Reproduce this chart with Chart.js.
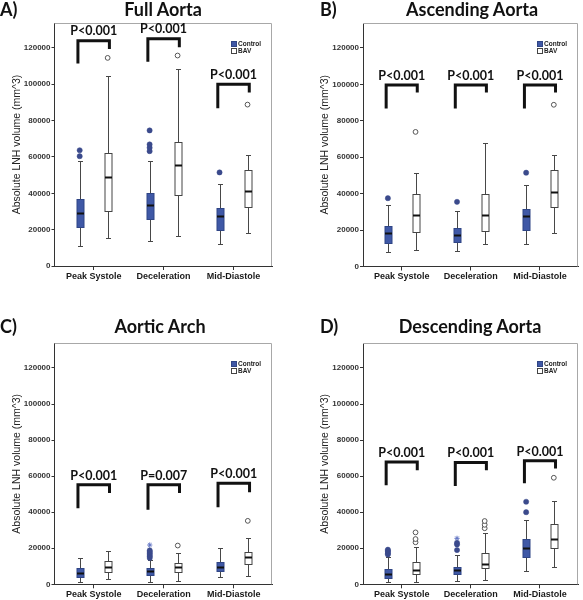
<!DOCTYPE html>
<html>
<head>
<meta charset="utf-8">
<script src="https://cdn.jsdelivr.net/npm/chart.js@4.4.1/dist/chart.umd.min.js"></script>
<style>
  body { margin: 0; background: #fff; width: 583px; height: 600px; position: relative; overflow: hidden; }
  .panel { position: absolute; }
  .lab, .ttl { position: absolute; font-family: Lato, sans-serif; font-weight: bold; font-size: 18px; line-height: 21px; color: #111; white-space: nowrap; }
  .ttl { text-align: center; }
</style>
</head>
<body>
<div class="panel" style="left:0;top:0"><canvas id="cA" width="308" height="300"></canvas></div>
<div class="panel" style="left:308px;top:0"><canvas id="cB" width="275" height="300"></canvas></div>
<div class="panel" style="left:0;top:300px"><canvas id="cC" width="308" height="310"></canvas></div>
<div class="panel" style="left:308px;top:300px"><canvas id="cD" width="275" height="310"></canvas></div>

<div class="lab" style="left:0;top:-1px">A)</div>
<div class="ttl" style="left:54px;width:218px;top:-1px">Full Aorta</div>
<div class="lab" style="left:320px;top:-1px">B)</div>
<div class="ttl" style="left:363px;width:218px;top:-1px">Ascending Aorta</div>
<div class="lab" style="left:0;top:316px">C)</div>
<div class="ttl" style="left:51px;width:218px;top:316px">Aortic Arch</div>
<div class="lab" style="left:320px;top:316px">D)</div>
<div class="ttl" style="left:361px;width:218px;top:316px">Descending Aorta</div>

<script>
const categories = ['Peak Systole', 'Deceleration', 'Mid-Diastole'];
const groups = ['Control', 'BAV'];
const yTicks = [0, 20000, 40000, 60000, 80000, 100000, 120000];
const Y_MAX = 133700;

// boxes: [lower whisker, Q1, median, Q3, upper whisker] per category
// brackets: [left leg bottom, bracket top, right leg bottom]

// A) Full Aorta
const fullControl = [[11000, 21600, 29100, 37000, 58000], [13700, 26000, 33300, 39900, 57700], [12300, 19800, 27600, 32000, 45000]];
const fullBav = [[15600, 30200, 49100, 62300, 104800], [16500, 39000, 55300, 68100, 108600], [18400, 32700, 41000, 52900, 61200]];
const fullControlOut = [[60400, 63700], [63200, 65100, 66900, 74600], [51500]];
const fullControlExt = [[], [], []];
const fullBavOut = [[114500], [115800], [88800]];
const fullBracket = [[111400, 124000, 119400], [112400, 125100, 120400], [86800, 100000, 95400]];
const fullP = ['P<0.001', 'P<0.001', 'P<0.001'];

// B) Ascending Aorta
const ascControl = [[7700, 12900, 18400, 22000, 33600], [8700, 13400, 17500, 21200, 30700], [12300, 19800, 27600, 31800, 45000]];
const ascBav = [[9200, 18900, 28100, 39900, 51100], [12300, 19700, 28500, 39900, 68000], [18400, 32700, 41000, 52900, 61200]];
const ascControlOut = [[37500], [35500], [51500]];
const ascControlExt = [[], [], []];
const ascBavOut = [[73900], [], [88800]];
const ascBracket = [[86800, 99700, 95500], [86800, 99700, 95500], [86800, 99700, 95500]];
const ascP = ['P<0.001', 'P<0.001', 'P<0.001'];

// C) Aortic Arch
const archControl = [[1100, 4200, 6100, 8900, 14400], [1500, 5200, 7400, 9200, 13500], [3900, 7400, 9800, 12600, 20000]];
const archBav = [[2900, 6700, 9800, 13100, 18700], [2000, 7000, 9400, 12000, 17200], [4600, 11100, 15000, 18100, 25500]];
const archControlOut = [[], [14600, 15500, 16300, 17200, 18000, 18800], []];
const archControlExt = [[], [21800], []];
const archBavOut = [[], [21500], [35200]];
const archBracket = [[42200, 55200, 50600], [41300, 55200, 50600], [42800, 56100, 51100]];
const archP = ['P<0.001', 'P=0.007', 'P<0.001'];

// D) Descending Aorta
const descControl = [[1100, 3700, 5500, 8300, 15000], [1800, 5500, 7900, 9800, 16200], [7400, 15300, 20000, 25000, 35700]];
const descBav = [[1500, 5700, 7900, 12200, 20800], [2400, 9200, 11100, 17200, 28300], [9400, 20000, 25100, 33500, 46300]];
const descControlOut = [[16500, 17200, 18000, 18600, 19200], [19000, 22100, 23000], [40000, 45800]];
const descControlExt = [[], [25500], []];
const descBavOut = [[23300, 25100, 28800], [31100, 33000, 35100], [59100]];
const descBracket = [[55000, 67900, 63300], [54600, 67600, 63300], [56000, 68500, 64300]];
const descP = ['P<0.001', 'P<0.001', 'P<0.001'];

const CONTROL_FILL = '#3f58a6';
const CONTROL_DOT = '#3b4a8c';
const SHIFT = 0.2;     // group offset from category centre (x units)
const LEG = 0.225;     // bracket leg offset

function toPoints(lists, shift) {
  const pts = [];
  lists.forEach((vals, i) => vals.forEach(v => pts.push({ x: i + 1 + shift, y: v })));
  return pts;
}

function drawBoxes(ctx, x, y, boxes, shift, fill, edge) {
  boxes.forEach((b, i) => {
    const cx = Math.round(x.getPixelForValue(i + 1 + shift)) + 0.5;
    const [lo, q1, med, q3, hi] = b.map(v => Math.round(y.getPixelForValue(v)) + 0.5);
    ctx.strokeStyle = '#474747';
    ctx.lineWidth = 1;
    ctx.beginPath();
    ctx.moveTo(cx, hi); ctx.lineTo(cx, q3);
    ctx.moveTo(cx, q1); ctx.lineTo(cx, lo);
    ctx.moveTo(cx - 2.5, hi); ctx.lineTo(cx + 2.5, hi);
    ctx.moveTo(cx - 2.5, lo); ctx.lineTo(cx + 2.5, lo);
    ctx.stroke();
    ctx.fillStyle = fill;
    ctx.fillRect(cx - 3.5, q3, 7, q1 - q3);
    ctx.strokeStyle = edge;
    ctx.strokeRect(cx - 3.5, q3, 7, q1 - q3);
    ctx.lineWidth = 2;
    ctx.strokeStyle = '#111';
    ctx.beginPath();
    ctx.moveTo(cx - 3.5, med); ctx.lineTo(cx + 3.5, med);
    ctx.stroke();
  });
}

function boxPlugin(controlBox, bavBox, brackets, pLabels) {
  return {
    id: 'boxes',
    beforeDatasetsDraw(chart) {
      const { ctx, chartArea: a, scales: { x, y } } = chart;
      ctx.save();
      // light frame on top / right
      ctx.strokeStyle = '#a8a8a8';
      ctx.lineWidth = 1;
      ctx.beginPath();
      ctx.moveTo(a.left, Math.round(a.top) + 0.5);
      ctx.lineTo(Math.round(a.right) - 0.5, Math.round(a.top) + 0.5);
      ctx.lineTo(Math.round(a.right) - 0.5, a.bottom);
      ctx.stroke();
      drawBoxes(ctx, x, y, controlBox, -SHIFT, CONTROL_FILL, '#2f4585');
      drawBoxes(ctx, x, y, bavBox, SHIFT, '#ffffff', '#444');
      ctx.restore();
    },
    afterDatasetsDraw(chart) {
      const { ctx, chartArea: a, scales: { x, y } } = chart;
      ctx.save();
      ctx.fillStyle = '#111';
      ctx.font = 'bold 12.5px Lato';
      ctx.textAlign = 'center';
      ctx.textBaseline = 'bottom';
      brackets.forEach((b, i) => {
        ctx.fillText(pLabels[i], x.getPixelForValue(i + 1), y.getPixelForValue(b[1]) - 3);
      });
      // legend
      const lx = Math.round(a.right) - 41, ly = Math.round(a.top) + 18;
      ctx.fillStyle = CONTROL_FILL;
      ctx.fillRect(lx, ly, 5, 5);
      ctx.strokeStyle = '#2f4585';
      ctx.lineWidth = 1;
      ctx.strokeRect(lx + 0.5, ly + 0.5, 5, 5);
      ctx.fillStyle = '#fff';
      ctx.fillRect(lx, ly + 7, 5, 5);
      ctx.strokeStyle = '#444';
      ctx.strokeRect(lx + 0.5, ly + 7.5, 5, 5);
      ctx.fillStyle = '#222';
      ctx.font = 'bold 6.5px "Liberation Sans"';
      ctx.textAlign = 'left';
      ctx.textBaseline = 'middle';
      ctx.fillText(groups[0], lx + 7, ly + 3);
      ctx.fillText(groups[1], lx + 7, ly + 10);
      ctx.restore();
    }
  };
}

function makePanel(id, frame, controlBox, bavBox, controlOut, controlExt, bavOut, brackets, pLabels) {
  const canvas = document.getElementById(id);
  const W = canvas.width, H = canvas.height;
  const xh = 20;

  const bracketSets = brackets.map((b, i) => ({
    data: [
      { x: i + 1 - LEG, y: b[0] }, { x: i + 1 - LEG, y: b[1] },
      { x: i + 1 + LEG, y: b[1] }, { x: i + 1 + LEG, y: b[2] }
    ],
    showLine: true,
    borderColor: '#111',
    borderWidth: 3,
    borderJoinStyle: 'miter',
    pointRadius: 0,
    tension: 0
  }));

  new Chart(canvas, {
    type: 'scatter',
    data: {
      datasets: [
        { data: toPoints(controlOut, -SHIFT), pointStyle: 'circle', pointRadius: 2.6, backgroundColor: CONTROL_DOT, borderColor: CONTROL_DOT, borderWidth: 0.5 },
        { data: toPoints(controlExt, -SHIFT), pointStyle: 'star', pointRadius: 2.6, borderColor: '#6275c4', borderWidth: 1 },
        { data: toPoints(bavOut, SHIFT), pointStyle: 'circle', pointRadius: 2.4, backgroundColor: '#fff', borderColor: '#555', borderWidth: 1 },
        ...bracketSets
      ]
    },
    options: {
      responsive: false,
      animation: false,
      layout: { padding: { left: 0, top: frame.top, right: W - frame.right, bottom: H - frame.bottom - xh } },
      plugins: { legend: { display: false }, tooltip: { enabled: false } },
      scales: {
        x: {
          type: 'linear',
          min: 0.44,
          max: 3.55,
          afterFit: s => { s.height = xh; },
          afterBuildTicks: s => { s.ticks = categories.map((c, i) => ({ value: i + 1 })); },
          grid: { drawOnChartArea: false, drawTicks: true, tickLength: 4, color: '#333' },
          border: { color: '#333', width: 1 },
          ticks: {
            includeBounds: false,
            padding: 1,
            maxRotation: 0,
            color: '#1a1a1a',
            font: { family: '"Liberation Sans", Arial', size: 9, weight: 'bold' },
            callback: v => categories[Math.round(v) - 1]
          }
        },
        y: {
          min: 0,
          max: Y_MAX,
          afterFit: s => { s.width = frame.left; },
          afterBuildTicks: s => { s.ticks = yTicks.map(v => ({ value: v })); },
          grid: { drawOnChartArea: false, drawTicks: true, tickLength: 3, color: '#333' },
          border: { color: '#333', width: 1 },
          title: {
            display: true,
            text: 'Absolute LNH volume (mm^3)',
            color: '#222',
            padding: { top: 11, bottom: 0 },
            font: { family: '"Liberation Sans", Arial', size: 10.5 }
          },
          ticks: {
            includeBounds: false,
            padding: 1,
            color: '#333',
            font: { family: '"Liberation Sans", Arial', size: 8, weight: 'bold' },
            callback: v => String(v)
          }
        }
      }
    },
    plugins: [boxPlugin(controlBox, bavBox, brackets, pLabels)]
  });
}

makePanel('cA', { left: 54.5, top: 23, right: 272, bottom: 266 }, fullControl, fullBav, fullControlOut, fullControlExt, fullBavOut, fullBracket, fullP);
makePanel('cB', { left: 55, top: 23, right: 273, bottom: 266.5 }, ascControl, ascBav, ascControlOut, ascControlExt, ascBavOut, ascBracket, ascP);
makePanel('cC', { left: 54.5, top: 43.3, right: 272.3, bottom: 284.3 }, archControl, archBav, archControlOut, archControlExt, archBavOut, archBracket, archP);
makePanel('cD', { left: 55, top: 43.3, right: 273, bottom: 284.3 }, descControl, descBav, descControlOut, descControlExt, descBavOut, descBracket, descP);
</script>
</body>
</html>
